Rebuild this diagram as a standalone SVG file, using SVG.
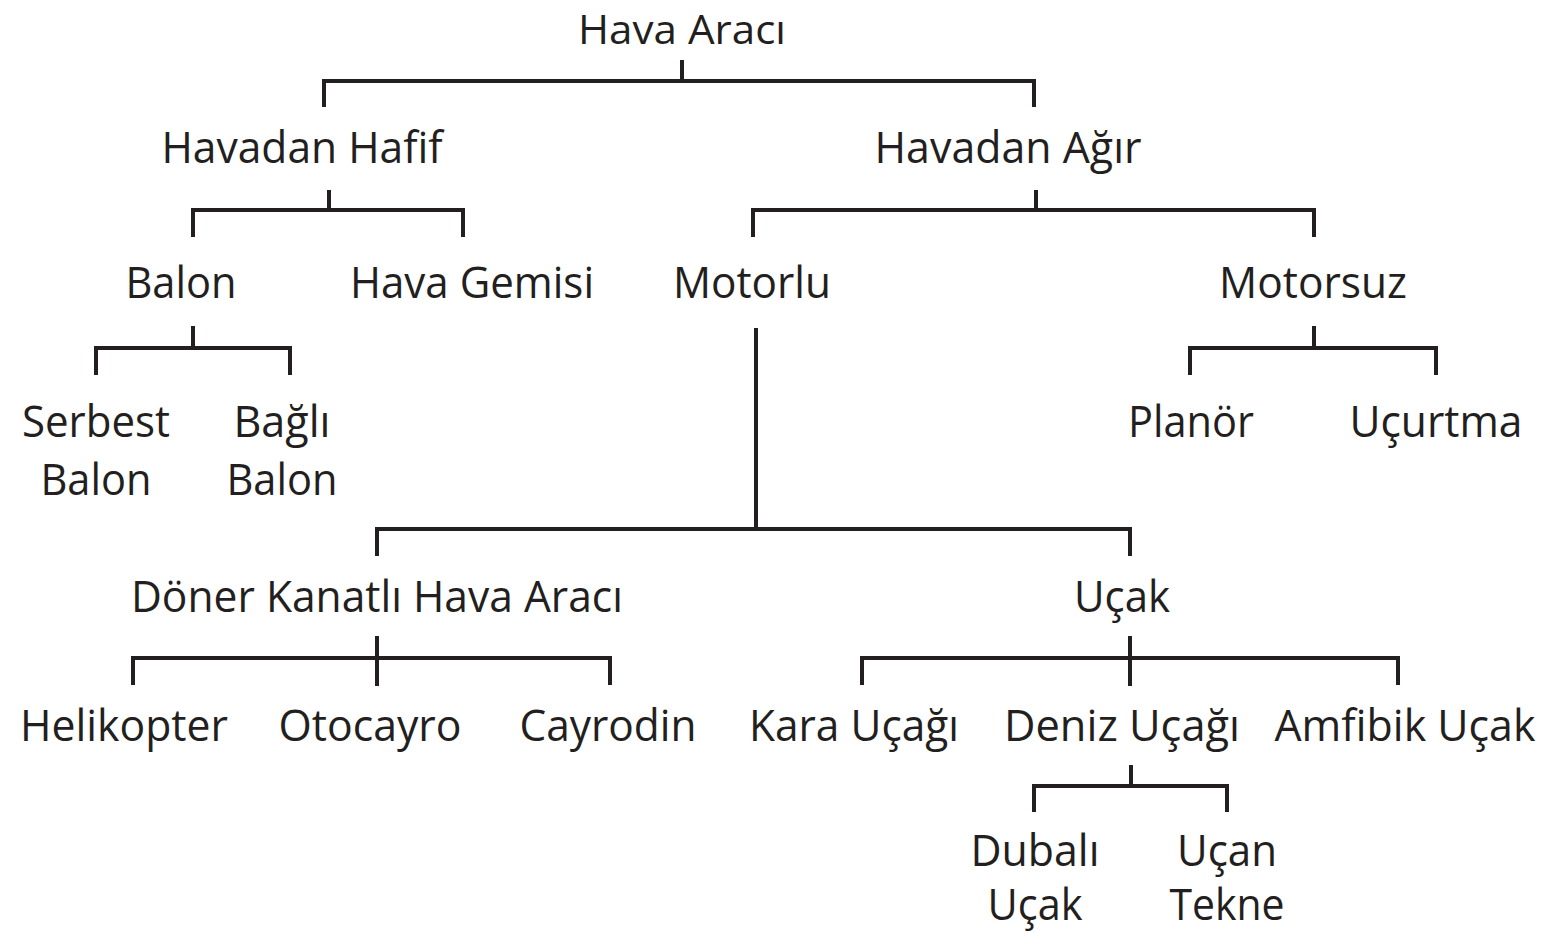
<svg xmlns="http://www.w3.org/2000/svg" width="1567" height="932" viewBox="0 0 1567 932">
<style>
text{font-family:"Open Sans","Noto Sans",sans-serif;font-size:43px;fill:#231f20;text-anchor:middle}
.c path{fill:none;stroke:#231f20;stroke-width:4;stroke-linecap:butt;stroke-linejoin:miter}
</style>
<rect width="1567" height="932" fill="#ffffff"/>
<g class="c" id="connectors">
<path d="M682 60V81M324 107V81H1034V107"/>
<path d="M329 190V210M193 237V210H463V237"/>
<path d="M1036 190V210M753 237V210H1314V237"/>
<path d="M193 326V348M96 375V348H290V375"/>
<path d="M1314 326V348M1190 375V348H1436V375"/>
<path d="M756 328V529M377 556V529H1130V556"/>
<path d="M377 636V686M133 685V658H610V685"/>
<path d="M1130 636V686M862 685V658H1398V685"/>
<path d="M1131 765V786M1034 812V786H1227V812"/>
</g>
<g id="n-hava-araci"><text x="682" y="44" style="font-size:41px" textLength="208" lengthAdjust="spacingAndGlyphs">Hava Aracı</text></g>
<g id="n-havadan-hafif"><text x="302" y="163" textLength="281" lengthAdjust="spacingAndGlyphs">Havadan Hafif</text></g>
<g id="n-havadan-agir"><text x="1008" y="163" textLength="267" lengthAdjust="spacingAndGlyphs">Havadan Ağır</text></g>
<g id="n-balon"><text x="181" y="298" textLength="111" lengthAdjust="spacingAndGlyphs">Balon</text></g>
<g id="n-hava-gemisi"><text x="472" y="298" textLength="244" lengthAdjust="spacingAndGlyphs">Hava Gemisi</text></g>
<g id="n-motorlu"><text x="752" y="298" textLength="158" lengthAdjust="spacingAndGlyphs">Motorlu</text></g>
<g id="n-motorsuz"><text x="1313" y="298" textLength="188" lengthAdjust="spacingAndGlyphs">Motorsuz</text></g>
<g id="n-serbest-balon"><text x="96" y="437" textLength="148" lengthAdjust="spacingAndGlyphs">Serbest</text><text x="96" y="495" textLength="111" lengthAdjust="spacingAndGlyphs">Balon</text></g>
<g id="n-bagli-balon"><text x="282" y="437" textLength="97" lengthAdjust="spacingAndGlyphs">Bağlı</text><text x="282" y="495" textLength="111" lengthAdjust="spacingAndGlyphs">Balon</text></g>
<g id="n-planor"><text x="1191" y="437" textLength="126" lengthAdjust="spacingAndGlyphs">Planör</text></g>
<g id="n-ucurtma"><text x="1436" y="437" textLength="173" lengthAdjust="spacingAndGlyphs">Uçurtma</text></g>
<g id="n-doner"><text x="377" y="612" textLength="492" lengthAdjust="spacingAndGlyphs">Döner Kanatlı Hava Aracı</text></g>
<g id="n-ucak"><text x="1122" y="612" textLength="96" lengthAdjust="spacingAndGlyphs">Uçak</text></g>
<g id="n-helikopter"><text x="124" y="741" textLength="208" lengthAdjust="spacingAndGlyphs">Helikopter</text></g>
<g id="n-otocayro"><text x="370" y="741" textLength="183" lengthAdjust="spacingAndGlyphs">Otocayro</text></g>
<g id="n-cayrodin"><text x="608" y="741" textLength="177" lengthAdjust="spacingAndGlyphs">Cayrodin</text></g>
<g id="n-kara-ucagi"><text x="854" y="741" textLength="210" lengthAdjust="spacingAndGlyphs">Kara Uçağı</text></g>
<g id="n-deniz-ucagi"><text x="1122" y="741" textLength="236" lengthAdjust="spacingAndGlyphs">Deniz Uçağı</text></g>
<g id="n-amfibik-ucak"><text x="1405" y="741" textLength="261" lengthAdjust="spacingAndGlyphs">Amfibik Uçak</text></g>
<g id="n-dubali-ucak"><text x="1035" y="866" textLength="129" lengthAdjust="spacingAndGlyphs">Dubalı</text><text x="1035" y="920" textLength="95" lengthAdjust="spacingAndGlyphs">Uçak</text></g>
<g id="n-ucan-tekne"><text x="1227" y="866" textLength="100" lengthAdjust="spacingAndGlyphs">Uçan</text><text x="1227" y="920" textLength="115" lengthAdjust="spacingAndGlyphs">Tekne</text></g>
</svg>
